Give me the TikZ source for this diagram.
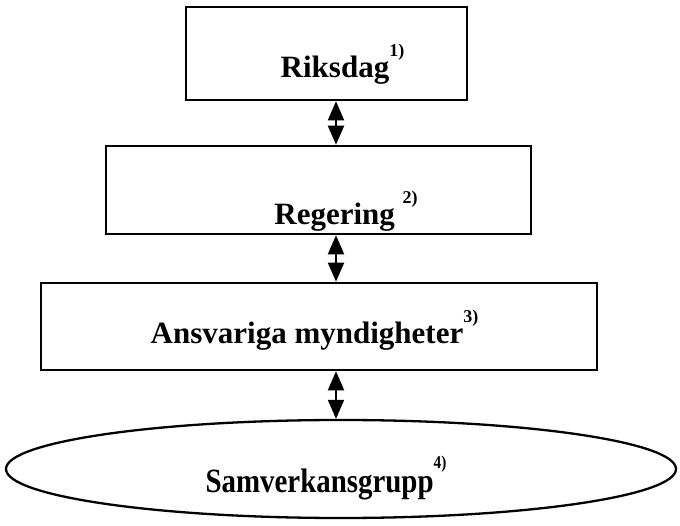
\documentclass[tikz,border=0pt]{standalone}
\usepackage{fontspec}
\setmainfont{Liberation Serif}
\newfontfamily\narrowserif[FakeStretch=0.85]{Liberation Serif}
\usetikzlibrary{shapes.geometric}
\usetikzlibrary{arrows.meta}
\newcommand{\fn}[1]{\raisebox{0.68em}{\fontsize{18}{18}\selectfont #1}}

\begin{document}
\begin{tikzpicture}[x=1pt,y=-1pt,
    box/.style={draw,rectangle,line width=2.6pt,inner sep=0pt},
    oval/.style={draw,ellipse,line width=2.3pt,inner sep=0pt},
    lbl/.style={font=\fontsize{31}{36}\selectfont\bfseries,inner sep=0pt},
    link/.style={line width=2pt,{Triangle[width=16pt,length=19pt]}-{Triangle[width=16pt,length=19pt]}}]
    \useasboundingbox (0,0) rectangle (680,526);
    \coordinate (axis) at (336,0);
    \node[box,minimum width=281pt,minimum height=93pt,
        label={[lbl,xshift=16pt,yshift=-10.5pt]center:Riksdag\fn{1)}}] at (326.5,53.5) (riksdag) {};
    \node[box,minimum width=425pt,minimum height=88pt,
        label={[lbl,xshift=27.5pt,yshift=-21pt]center:Regering \fn{2)}}] at (318.5,190) (regering) {};
    \node[box,minimum width=556pt,minimum height=87pt,
        label={[lbl,xshift=-4.5pt,yshift=-3.5pt]center:Ansvariga myndigheter\fn{3)}}] at (319,326.5) (ansvariga) {};
    \node[oval,minimum width=670pt,minimum height=98pt,
        label={[lbl,font=\fontsize{34}{40}\selectfont\narrowserif\bfseries,xshift=-15pt,yshift=-9pt]center:Samverkansgrupp\fn{4)}}] at (341,469) (samverkan) {};
    \foreach \a/\b in {riksdag/regering, regering/ansvariga, ansvariga/samverkan}{
        \draw[link] (\a.south -| axis) -- (\b.north -| axis);
    }
\end{tikzpicture}
\end{document}
